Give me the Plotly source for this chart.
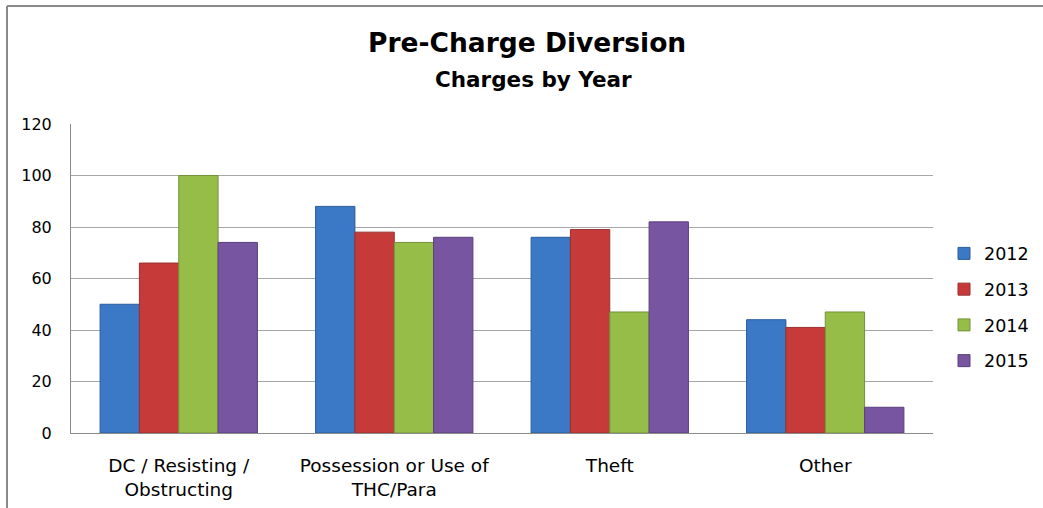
import plotly.graph_objects as go

categories = ["DC / Resisting /<br>Obstructing", "Possession or Use of<br>THC/Para", "Theft", "Other"]
years = ["2012", "2013", "2014", "2015"]
values_2012 = [50, 88, 76, 44]
values_2013 = [66, 78, 79, 41]
values_2014 = [100, 74, 47, 47]
values_2015 = [74, 76, 82, 10]
series = [values_2012, values_2013, values_2014, values_2015]
colors = ["#3B78C6", "#C63B3A", "#96BD47", "#7855A0"]
edge_colors = ["#2C5C9A", "#97302F", "#73923A", "#5A3F7A"]
y_ticks = [0, 20, 40, 60, 80, 100, 120]

FONT = "DejaVu Sans, sans-serif"

fig = go.Figure()
for i, (yr, vals) in enumerate(zip(years, series)):
    fig.add_trace(go.Bar(
        x=categories, y=vals, name=yr,
        marker=dict(color=colors[i], line=dict(color=edge_colors[i], width=1)),
        legendgroup=yr,
    ))

W, H = 1043, 508
L, R, T, B = 71, 110, 124, 75
pw, ph = W - L - R, H - T - B

def px_x(px):
    return (px - L) / pw

def px_y(py):
    return (H - B - py) / ph

fig.update_layout(
    width=W, height=H,
    margin=dict(l=L, r=R, t=T, b=B, autoexpand=False),
    paper_bgcolor="white", plot_bgcolor="white",
    barmode="group", bargap=0.27, bargroupgap=0,
    font=dict(family=FONT, color="#000000", size=18),
    showlegend=True,
    legend=dict(x=px_x(944), y=px_y(307), xanchor="left", yanchor="middle",
                font=dict(size=17.5, family=FONT), tracegroupgap=10,
                bgcolor="rgba(0,0,0,0)"),
    xaxis=dict(showgrid=False, showline=True, linecolor="#8C8C8C", linewidth=1,
               ticks="", tickfont=dict(size=18.5, family=FONT), ticklabelstandoff=16,
               automargin=False, fixedrange=True),
    yaxis=dict(range=[0, 120], tickvals=y_ticks, showgrid=True, gridcolor="#A6A6A6",
               gridwidth=1, showline=True, linecolor="#8C8C8C", linewidth=1,
               zeroline=False, ticks="", tickfont=dict(size=16, family=FONT),
               ticklabelstandoff=15, automargin=False, fixedrange=True),
    annotations=[
        dict(text="<b>Pre-Charge Diversion</b>", x=px_x(527), y=px_y(43), xref="paper", yref="paper",
             showarrow=False, xanchor="center", yanchor="middle", font=dict(size=26.5, family=FONT)),
        dict(text="<b>Charges by Year</b>", x=px_x(533), y=px_y(80), xref="paper", yref="paper",
             showarrow=False, xanchor="center", yanchor="middle", font=dict(size=21.5, family=FONT)),
    ],
    shapes=[
        dict(type="line", xref="paper", yref="paper", x0=px_x(7), x1=px_x(1043), y0=px_y(6), y1=px_y(6),
             line=dict(color="#8A8A8A", width=2)),
        dict(type="line", xref="paper", yref="paper", x0=px_x(7), x1=px_x(7), y0=px_y(6), y1=px_y(508),
             line=dict(color="#8A8A8A", width=2)),
    ],
)

fig.write_html("out.html", config={"displayModeBar": False},
               post_script="document.body.style.margin='0';document.body.style.overflow='hidden';")
